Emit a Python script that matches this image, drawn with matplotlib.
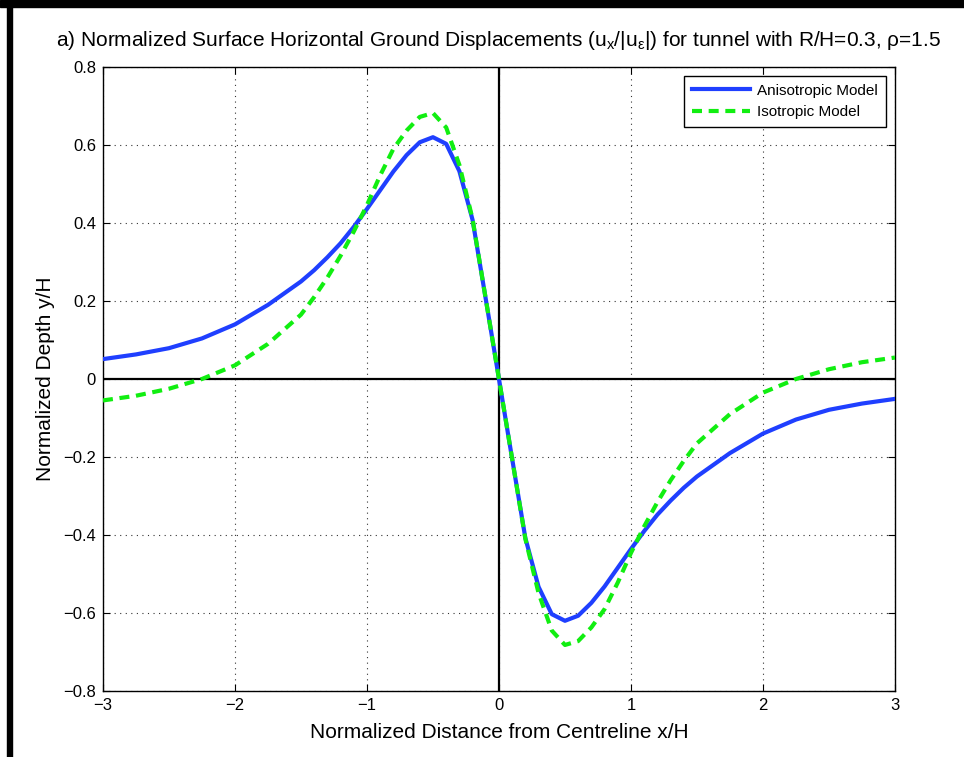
import matplotlib.pyplot as plt
from matplotlib.patches import Rectangle

plt.rcParams['font.family'] = ['Liberation Sans', 'DejaVu Sans']
plt.rcParams['mathtext.fontset'] = 'custom'
plt.rcParams['mathtext.rm'] = 'Liberation Sans'
plt.rcParams['mathtext.it'] = 'Liberation Sans'

# normalized distance x/H
x_vals = [-3.0, -2.75, -2.5, -2.25, -2.0, -1.75, -1.5, -1.4, -1.3, -1.2, -1.1,
          -1.0, -0.9, -0.8, -0.7, -0.6, -0.5, -0.4, -0.3, -0.2, -0.1, 0.0,
          0.1, 0.2, 0.3, 0.4, 0.5, 0.6, 0.7, 0.8, 0.9, 1.0,
          1.1, 1.2, 1.3, 1.4, 1.5, 1.75, 2.0, 2.25, 2.5, 2.75, 3.0]

# normalized horizontal displacement, anisotropic model
aniso = [0.051, 0.063, 0.079, 0.104, 0.140, 0.190, 0.250, 0.279, 0.312, 0.348, 0.390,
         0.436, 0.484, 0.532, 0.574, 0.607, 0.620, 0.603, 0.533, 0.408, 0.205, 0.0,
         -0.205, -0.408, -0.533, -0.603, -0.620, -0.607, -0.574, -0.532, -0.484, -0.436,
         -0.390, -0.348, -0.312, -0.279, -0.250, -0.190, -0.140, -0.104, -0.079, -0.063, -0.051]

# normalized horizontal displacement, isotropic model
iso = [-0.055, -0.043, -0.025, 0.0, 0.035, 0.090, 0.165, 0.210, 0.260, 0.316, 0.378,
       0.446, 0.522, 0.590, 0.637, 0.672, 0.682, 0.645, 0.549, 0.410, 0.205, 0.0,
       -0.205, -0.410, -0.549, -0.645, -0.682, -0.672, -0.637, -0.590, -0.522, -0.446,
       -0.378, -0.316, -0.260, -0.210, -0.165, -0.090, -0.035, 0.0, 0.025, 0.043, 0.055]

x_ticks = [-3, -2, -1, 0, 1, 2, 3]
y_ticks = [-0.8, -0.6, -0.4, -0.2, 0, 0.2, 0.4, 0.6, 0.8]

fig = plt.figure(figsize=(9.64, 7.57), dpi=100)
ax = fig.add_axes([0.1068, 0.0872, 0.8216, 0.8243])

ax.axhline(0, color='black', lw=1.6, zorder=1)
ax.axvline(0, color='black', lw=1.6, zorder=1)

ax.plot(x_vals, aniso, color='#1f3fff', lw=3, label='Anisotropic Model', zorder=3)
ax.plot(x_vals, iso, color='#11ee11', lw=3, dashes=(2.4, 1.6), label='Isotropic Model', zorder=4)

ax.set_xlim(-3, 3)
ax.set_ylim(-0.8, 0.8)
ax.set_xticks(x_ticks)
ax.set_yticks(y_ticks)
ax.set_yticklabels(['\u22120.8', '\u22120.6', '\u22120.4', '\u22120.2', '0', '0.2', '0.4', '0.6', '0.8'])
ax.tick_params(direction='in', top=True, right=True, length=5, labelsize=12, pad=5)
ax.grid(True, linestyle=(0, (1, 4)), color='black', lw=0.8, alpha=0.8)
for s in ax.spines.values():
    s.set_linewidth(1.0)

ax.set_xlabel('Normalized Distance from Centreline x/H', fontsize=15, labelpad=7)
ax.set_ylabel('Normalized Depth y/H', fontsize=15, labelpad=6)
ax.set_title(r'a) Normalized Surface Horizontal Ground Displacements (u$_{\mathregular{x}}$/|u$_{\mathregular{\epsilon}}$|)'
             r' for tunnel with R/H=0.3, ρ=1.5', fontsize=15, pad=15)

leg = ax.legend(loc='upper right', fontsize=11, fancybox=False, edgecolor='black',
                framealpha=1, handlelength=3.8, handletextpad=0.5, borderpad=0.5,
                borderaxespad=0.6)
leg.get_frame().set_linewidth(1.0)

# window border
fig.add_artist(Rectangle((7 / 964, 0), 5 / 964, 1, transform=fig.transFigure, color='black'))
fig.add_artist(Rectangle((0, 1 - 7 / 757), 1, 7 / 757, transform=fig.transFigure, color='black'))

fig.savefig('out.png', dpi=100)
